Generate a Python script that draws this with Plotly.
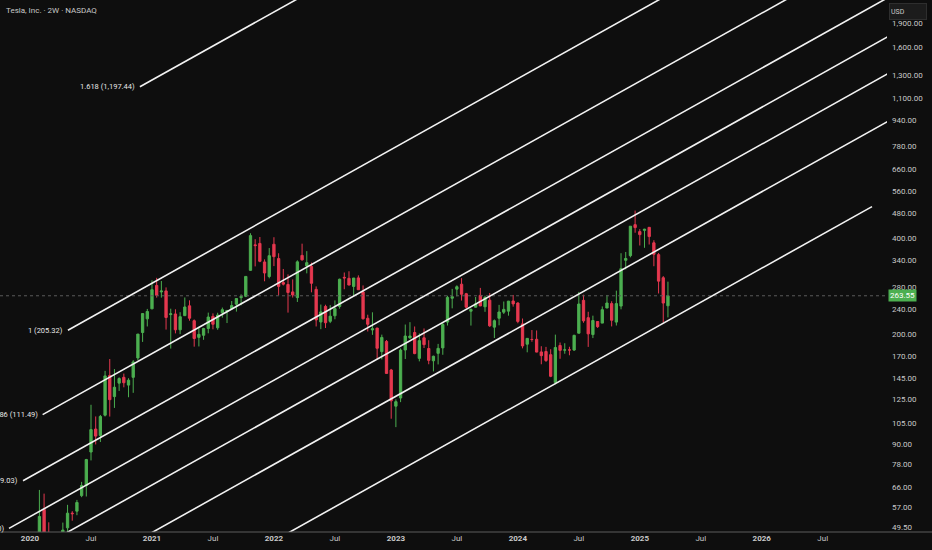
import numpy as np
import pandas as pd
import plotly.graph_objects as go

# 2W bars; the two-week grid restarts with the first Monday of 2025
bar_dates = list(pd.date_range("2020-01-06", "2024-12-30", freq="14D")) + \
    list(pd.date_range("2025-01-06", "2025-03-17", freq="14D"))

open_ = [
    29.4, 34.1, 44.9, 56.1, 47.4, 31.3, 34.5, 39.3, 49.1, 54.6, 55.4, 62.0, 66.7,
    85.0, 100.4, 95.9, 111.0, 148.0, 127.0, 140.0, 146.0, 138.0, 146.0, 168.0, 202.0, 223.0,
    239.8, 284.0, 271.0, 273.0, 230.0, 231.0, 206.0, 228.2, 245.0, 220.0, 195.0, 198.0, 208.0,
    227.0, 209.0, 233.0, 235.0, 240.0, 248.0, 260.0, 262.5, 316.8, 381.0, 385.0, 336.7, 303.0,
    382.6, 345.0, 290.0, 286.0, 271.0, 260.0, 353.0, 327.0, 326.0, 276.0, 218.0, 244.0, 219.0,
    228.0, 244.0, 301.2, 299.0, 282.0, 300.0, 271.0, 223.9, 205.8, 208.6, 175.9, 189.4, 154.0,
    118.5, 125.7, 178.0, 194.4, 202.0, 167.5, 194.4, 179.9, 164.6, 173.7, 180.7, 217.8, 258.9,
    276.5, 286.6, 267.5, 235.7, 242.6, 264.3, 243.4, 255.3, 210.0, 224.0, 234.0, 235.8, 253.8,
    250.1, 215.0, 185.6, 192.1, 192.3, 175.5, 176.0, 172.0, 140.6, 183.8, 177.8, 178.1, 177.9,
    201.0, 255.0, 224.9, 199.0, 218.7, 216.2, 241.2, 249.0, 217.8, 244.6, 340.7, 352.4, 441.0, 419.4,
    423.2, 432.6, 386.7, 355.0, 300.3, 245.1,
]
high = [
    35.5, 43.5, 64.6, 62.9, 51.1, 37.6, 39.0, 51.0, 58.0, 55.4, 60.1, 68.5, 80.9,
    119.7, 110.0, 111.2, 153.0, 166.7, 155.0, 146.0, 150.0, 145.1, 165.3, 199.6, 231.7, 239.6,
    294.8, 300.1, 293.3, 280.0, 240.0, 239.0, 234.0, 260.3, 255.0, 222.0, 210.5, 209.0, 233.3,
    232.0, 233.0, 242.0, 237.0, 253.7, 258.3, 266.3, 303.3, 414.5, 397.0, 403.3, 343.0, 372.3,
    402.7, 358.5, 320.0, 307.7, 296.6, 340.6, 384.3, 364.1, 335.0, 282.0, 247.3, 247.0, 246.3,
    254.9, 298.3, 311.9, 314.7, 284.0, 305.5, 284.0, 229.8, 233.8, 208.9, 198.9, 191.3, 155.2,
    124.5, 180.0, 214.0, 217.7, 211.0, 200.7, 208.0, 191.0, 170.8, 186.0, 217.3, 263.6, 277.0,
    284.3, 299.3, 269.1, 240.6, 261.2, 279.0, 263.6, 268.9, 222.0, 246.7, 252.8, 253.9, 265.1,
    251.3, 223.5, 194.0, 205.6, 205.0, 182.9, 182.0, 179.0, 198.9, 187.9, 186.9, 182.2, 198.7,
    271.0, 265.6, 234.7, 228.2, 219.5, 244.0, 265.1, 253.3, 273.5, 358.6, 361.9, 436.3, 488.5, 427.0,
    428.0, 433.2, 394.0, 359.1, 303.9, 291.9,
]
low = [
    29.3, 33.5, 44.6, 40.7, 35.3, 23.4, 31.3, 39.0, 45.5, 51.7, 53.8, 61.3, 61.6,
    80.0, 89.8, 91.4, 110.0, 109.9, 117.0, 132.3, 135.8, 126.4, 130.5, 165.0, 188.7, 211.0,
    239.0, 260.0, 260.0, 206.3, 179.8, 200.7, 199.6, 228.0, 220.0, 182.3, 182.6, 191.6, 200.8,
    206.7, 206.0, 225.0, 216.3, 238.0, 235.0, 246.0, 261.0, 316.0, 326.0, 336.0, 292.7, 299.0,
    326.7, 264.0, 284.0, 233.3, 260.2, 252.0, 340.0, 310.0, 270.2, 211.0, 206.9, 208.7, 216.2,
    222.3, 240.0, 276.3, 284.5, 262.4, 276.0, 221.9, 203.5, 198.6, 166.2, 166.2, 150.0, 108.2,
    101.8, 122.0, 166.7, 193.0, 172.6, 163.9, 180.5, 160.5, 152.4, 160.3, 171.9, 212.5, 240.6,
    262.5, 254.5, 240.2, 212.4, 242.0, 244.5, 234.6, 210.4, 194.1, 212.8, 231.0, 228.2, 243.6,
    216.0, 180.1, 175.0, 188.9, 175.0, 160.5, 163.2, 146.2, 138.8, 167.0, 173.2, 171.3, 176.9,
    200.8, 216.8, 182.0, 194.0, 208.8, 216.2, 241.0, 211.1, 212.5, 238.9, 319.0, 348.1, 416.0, 379.3,
    373.0, 382.0, 326.4, 268.0, 217.0, 225.3,
]
close = [
    34.0, 43.4, 53.3, 44.5, 36.4, 34.3, 38.2, 48.3, 54.6, 54.4, 59.0, 66.7, 80.5,
    100.0, 95.4, 110.0, 147.5, 124.2, 135.9, 144.7, 140.4, 143.0, 163.2, 199.7, 231.7, 235.2,
    275.4, 264.5, 272.8, 225.2, 231.2, 206.0, 226.5, 243.0, 224.0, 193.4, 199.3, 207.9, 226.0,
    214.4, 229.1, 238.3, 237.0, 245.6, 258.3, 262.3, 303.2, 407.4, 379.0, 338.3, 310.8, 352.3,
    349.9, 282.1, 286.7, 269.9, 265.1, 336.9, 341.8, 335.0, 288.5, 221.3, 234.5, 216.8, 227.3,
    240.1, 297.1, 300.0, 284.8, 299.7, 275.3, 223.1, 214.4, 207.5, 180.2, 194.9, 150.2, 123.2,
    122.4, 177.9, 196.9, 196.9, 173.4, 190.4, 185.0, 165.1, 170.1, 180.1, 214.0, 260.5, 261.8,
    281.4, 266.4, 242.6, 238.6, 248.5, 244.9, 260.5, 212.0, 220.0, 234.3, 238.8, 253.5, 248.5,
    218.9, 183.3, 193.6, 192.0, 175.3, 170.8, 164.9, 147.1, 181.2, 177.5, 178.1, 178.0, 197.9,
    248.2, 219.8, 200.0, 220.3, 210.7, 238.3, 250.1, 220.7, 249.0, 320.7, 345.2, 436.2, 431.7, 410.4,
    426.5, 404.6, 355.8, 293.0, 250.0, 263.55,
]

# time axis works by bar index, like the original
bar_idx = list(range(len(bar_dates)))
x_tick_bars = [0, 13, 26, 39, 52, 65, 78, 91, 104, 117, 130, 143, 156, 169]
x_tick_labels = ["<b>2020</b>", "Jul", "<b>2021</b>", "Jul", "<b>2022</b>", "Jul",
                 "<b>2023</b>", "Jul", "<b>2024</b>", "Jul", "<b>2025</b>", "Jul",
                 "<b>2026</b>", "Jul"]
y_ticks = [49.5, 57, 66, 78, 90, 105, 125, 145, 170, 200, 240, 280, 340, 400,
           480, 560, 660, 780, 940, 1100, 1300, 1600, 1900]

# fib channel: each level runs from a left anchor to a right anchor (bar, price)
fib_labels = ["1.618 (1,197.44)", "1 (205.32)", "0.786 (111.49)", "0.5 (69.03)",
              "0 (48.90)", "", "", ""]
fib_start_bar = [23.43, 8.08, 2.69, -1.49, -4.48, -7.29, -10.92, -16.74]
fib_start_price = [1197.44, 205.32, 111.49, 69.03, 48.90, 35.59, 23.55, 12.11]
fib_end_bar = [219.7, 204.4, 199.0, 194.8, 191.8, 189.0, 185.4, 179.5]
fib_end_price = [49233, 8544, 4609, 2861, 2038, 1477.6, 977.7, 502.7]

x_range = [-6.4, 182.7]
y_range = [47.64, 2243.8]

BG = "#0e0e0e"
TXT = "#c9c9c9"
FONT = "Roboto, sans-serif"
UP = "#4caf50"
DOWN = "#e5384f"

fig = go.Figure()

fig.add_trace(go.Scatter(
    x=x_range, y=[close[-1], close[-1]], mode="lines",
    line=dict(color="#5a5a5a", width=1, dash="dot"), hoverinfo="skip"))

for i in range(len(fib_start_bar)):
    fig.add_trace(go.Scatter(
        x=[fib_start_bar[i], fib_end_bar[i]],
        y=[fib_start_price[i], fib_end_price[i]],
        mode="lines", line=dict(color="#f2f2f2", width=1.6), hoverinfo="skip"))

fig.add_trace(go.Candlestick(
    x=bar_idx, open=open_, high=high, low=low, close=close,
    text=[d.strftime("%Y-%m-%d") for d in bar_dates],
    increasing=dict(line=dict(color=UP, width=1), fillcolor=UP),
    decreasing=dict(line=dict(color=DOWN, width=1), fillcolor=DOWN),
    whiskerwidth=0))

for i, lab in enumerate(fib_labels):
    if not lab:
        continue
    fig.add_annotation(
        x=fib_start_bar[i], y=np.log10(fib_start_price[i]), text=lab,
        showarrow=False, xanchor="right", yanchor="middle", xshift=-3,
        font=dict(color="#e6e6e6", size=7.5, family=FONT))

fig.add_annotation(
    xref="paper", yref="paper", x=0, y=1, xanchor="left", yanchor="top",
    xshift=4, yshift=-4, text="Tesla, Inc. · 2W · NASDAQ", showarrow=False,
    font=dict(color=TXT, size=8, family=FONT))

fig.add_annotation(
    xref="paper", yref="paper", x=1, y=1, xanchor="left", yanchor="top",
    xshift=2, yshift=-3, text="USD", showarrow=False, align="left",
    width=34, height=13, bgcolor="#1c1c1c", bordercolor="#2e2e2e", borderwidth=1,
    borderpad=1, font=dict(color=TXT, size=7, family=FONT))

fig.add_annotation(
    xref="paper", yref="y", x=1, y=np.log10(close[-1]), xanchor="left",
    yanchor="middle", xshift=1, text=f"{close[-1]:.2f}", showarrow=False,
    bgcolor=UP, borderpad=1, font=dict(color="#ffffff", size=8, family=FONT))

fig.add_shape(type="line", xref="paper", yref="paper", x0=0, x1=1.06, y0=0, y1=0,
              line=dict(color="#5c5c5c", width=1))

fig.update_layout(
    width=932, height=550,
    margin=dict(l=0, r=45, t=0, b=18),
    paper_bgcolor=BG, plot_bgcolor=BG,
    showlegend=False,
    hovermode=False,
    font=dict(family=FONT, color=TXT, size=8),
)
fig.update_xaxes(
    range=x_range, tickvals=x_tick_bars, ticktext=x_tick_labels,
    showgrid=False, zeroline=False, showline=False, ticks="",
    rangeslider=dict(visible=False),
    tickfont=dict(color=TXT, size=8, family=FONT))
fig.update_yaxes(
    type="log", range=[np.log10(y_range[0]), np.log10(y_range[1])],
    side="right", tickvals=y_ticks, ticktext=[f"{v:,.2f}" for v in y_ticks],
    showgrid=False, zeroline=False, ticks="", ticklabelstandoff=4,
    tickfont=dict(color=TXT, size=8, family=FONT))

fig.write_html(
    "out.html",
    config={"displayModeBar": False, "staticPlot": True},
    post_script="document.body.style.margin='0';"
                "document.body.style.background='" + BG + "';")
